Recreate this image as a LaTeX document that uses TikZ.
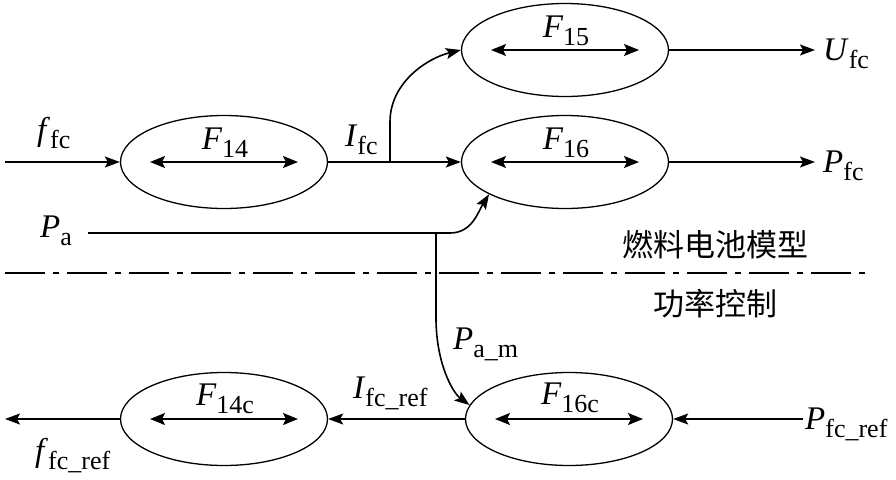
\documentclass[tikz,border=0pt]{standalone}
\usepackage{fontspec}
\setmainfont{Liberation Serif}
\newfontfamily\cjk{Noto Sans CJK SC}
\usetikzlibrary{arrows.meta,shapes.geometric}
\newcommand{\myv}[2]{\textit{#1}\raisebox{-8pt}{\fontsize{26}{26}\selectfont #2}}
\tikzset{
  blk/.style={ellipse,draw,line width=1.3pt,minimum width=207pt,minimum height=93pt,inner sep=0pt},
  con/.style={line width=1.6pt,-{Stealth[length=15pt,width=11pt,inset=3pt]}},
  dbl/.style={line width=1.6pt,{Stealth[length=15pt,width=12pt,inset=3pt]}-{Stealth[length=15pt,width=12pt,inset=3pt]}},
  lab/.style={font=\fontsize{33}{33}\selectfont,inner sep=0pt},
  zh/.style={font=\cjk\fontsize{31}{31}\selectfont,inner sep=0pt},
  sep/.style={line width=1.3pt,dash pattern=on 40pt off 8pt on 6pt off 8pt}
}
\begin{document}
\begin{tikzpicture}[x=1pt,y=-1pt]
\useasboundingbox (0,0) rectangle (896,479);
% blocks
\node[blk] (F15) at (565,50) {};
\node[blk] (F14) at (224,162) {};
\node[blk] (F16) at (565,162) {};
\node[blk] (F14c) at (224,419) {};
\node[blk] (F16c) at (569,419) {};
% inner arrows
\foreach \n in {F15,F14,F16,F14c,F16c}{
  \draw[dbl] ([xshift=-74pt]\n.center) -- ([xshift=74pt]\n.center);
}
% inner labels
\node[lab,anchor=base] (l15) at (566,37) {\myv{F}{15}};
\node[lab,anchor=base] (l14) at (225,149) {\myv{F}{14}};
\node[lab,anchor=base] (l16) at (566,149) {\myv{F}{16}};
\node[lab,anchor=base] (l14c) at (225,405) {\myv{F}{14c}};
\node[lab,anchor=base] (l16c) at (570,404) {\myv{F}{16c}};
% coordinates
\coordinate (ffcin) at (5,162);
\coordinate (split) at (390,162);
\coordinate (ufcend) at (815,50);
\coordinate (pfcend) at (815,162);
\coordinate (pastart) at (88,233);
\coordinate (junc) at (436,233);
\coordinate (pabend) at (450,233);
\coordinate (vbend) at (436,318);
\coordinate (fref) at (5,419);
\coordinate (pfcref) at (803,419);
% connectors upper
\draw[con] (ffcin) -- (F14);
\draw[con] (F14) -- (F16);
\draw[con] (split) -- ++(0,-40) .. controls (390,82) and (428,58) .. (F15.west);
\draw[con] (F15) -- (ufcend);
\draw[con] (F16) -- (pfcend);
\draw[con] (pastart) -- (pabend) .. controls (472,233) and (478,212) .. (F16.203);
\draw[con] (junc) -- (vbend) .. controls (436,362) and (452,392) .. (F16c.172);
% connectors lower
\draw[con] (pfcref) -- (F16c);
\draw[con] (F16c) -- (F14c);
\draw[con] (F14c) -- (fref);
% separator
\coordinate (sepl) at (5,273);
\coordinate (sepr) at (871,273);
\draw[sep] (sepl) -- (sepr);
% outer labels
\node[lab,anchor=base west] (tffc) at (37,140) {\myv{f}{fc}};
\node[lab,anchor=base west] (tifc) at (345,146) {\myv{I}{fc}};
\node[lab,anchor=base west] (tufc) at (823,60) {\myv{U}{fc}};
\node[lab,anchor=base west] (tpfc) at (823,172) {\myv{P}{fc}};
\node[lab,anchor=base west] (tpa) at (40,237) {\myv{P}{a}};
\node[lab,anchor=base west] (tpam) at (453,349) {\myv{P}{a\_m}};
\node[lab,anchor=base west] (tifcref) at (353,398) {\myv{I}{fc\_ref}};
\node[lab,anchor=base west] (tffcref) at (35,461) {\myv{f}{fc\_ref}};
\node[lab,anchor=base west] (tpfcref) at (805,429) {\myv{P}{fc\_ref}};
% chinese
\node[zh] (zh1) at (715,245) {燃料电池模型};
\node[zh] (zh2) at (715,304) {功率控制};
\end{tikzpicture}
\end{document}
